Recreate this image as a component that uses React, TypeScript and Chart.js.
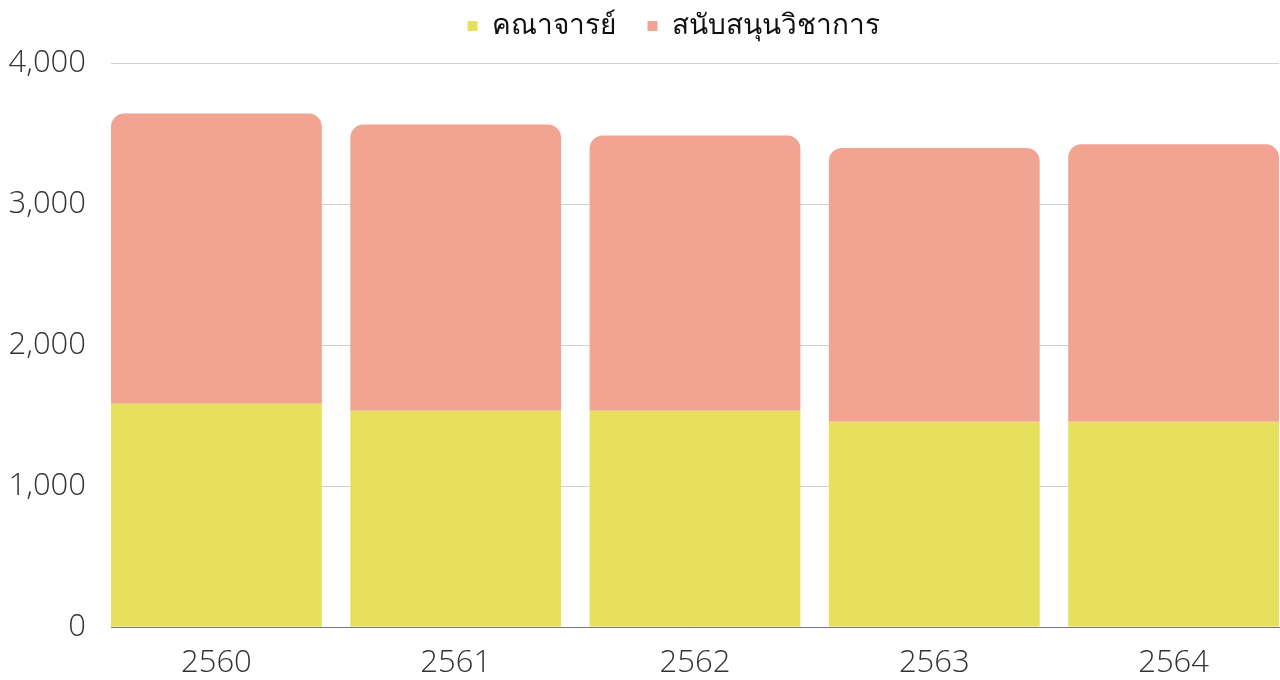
import React, { useEffect, useRef } from "react";
import { Chart, registerables } from "chart.js";

Chart.register(...registerables);

const years = ["2560", "2561", "2562", "2563", "2564"];
const faculty = [1583, 1533, 1533, 1455, 1455];
const support = [2058, 2030, 1952, 1942, 1968];
const seriesNames = ["คณาจารย์", "สนับสนุนวิชาการ"];
const yTicks = [0, 1000, 2000, 3000, 4000];

const FONT = "'Open Sans', 'Noto Sans', 'DejaVu Sans', sans-serif";

const legendSpacer = {
  id: "legendSpacer",
  beforeInit(chart: any) {
    const orig = chart.legend.fit;
    chart.legend.fit = function () {
      orig.call(this);
      this.height += 13;
    };
  },
  afterLayout(chart: any) {
    chart.legend.left += 34;
    chart.legend.right += 34;
  },
};

export default function App() {
  const ref = useRef<HTMLCanvasElement | null>(null);
  useEffect(() => {
    if (!ref.current) return;
    const half = 0.4405;
    const chart = new Chart(ref.current, {
      type: "bar",
      data: {
        datasets: [
          {
            label: seriesNames[0],
            data: years.map((_, i) => ({ x: i, y: faculty[i] })),
            backgroundColor: "#E6E05E",
            borderWidth: 0,
            barPercentage: 0.881,
            categoryPercentage: 1,
          },
          {
            label: seriesNames[1],
            data: years.map((_, i) => ({ x: i, y: support[i] })),
            backgroundColor: "#F2A493",
            borderWidth: 0,
            borderRadius: 13,
            borderSkipped: "start",
            barPercentage: 0.881,
            categoryPercentage: 1,
          },
        ],
      },
      plugins: [legendSpacer],
      options: {
        animation: false,
        responsive: true,
        maintainAspectRatio: false,
        layout: { padding: { left: 0, right: 1, top: -20, bottom: 0 } },
        plugins: {
          legend: {
            position: "top",
            labels: {
              usePointStyle: true,
              pointStyle: "rect",
              boxWidth: 10,
              boxHeight: 10,
              padding: 32,
              color: "#111",
              font: { family: FONT, size: 28 },
            },
          },
          tooltip: { enabled: false },
        },
        scales: {
          x: {
            type: "linear",
            stacked: true,
            offset: false,
            min: -half,
            max: years.length - 1 + half,
            grid: { display: false, drawTicks: false },
            border: { display: true, color: "#777", width: 1 },
            afterFit: (axis: any) => {
              axis.height = 53;
            },
            ticks: {
              stepSize: 1,
              includeBounds: false,
              autoSkip: false,
              maxRotation: 0,
              padding: 18,
              color: "#333",
              font: { family: FONT, size: 31, weight: 300 },
              callback: (v: any) => {
                const n = Number(v);
                return Number.isInteger(n) && years[n] !== undefined ? years[n] : "";
              },
            },
          },
          y: {
            stacked: true,
            min: yTicks[0],
            max: yTicks[yTicks.length - 1],
            grid: { color: "#CFCFCF", drawTicks: false },
            border: { display: false },
            afterFit: (axis: any) => {
              axis.width = 111;
            },
            afterBuildTicks: (axis: any) => {
              axis.ticks = yTicks.map((v) => ({ value: v }));
            },
            ticks: {
              padding: 25,
              color: "#333",
              font: { family: FONT, size: 31, weight: 300 },
              callback: (v: any) => Number(v).toLocaleString("en-US"),
            },
          },
        },
      },
    });
    return () => chart.destroy();
  }, []);
  return (
    <div style={{ position: "fixed", left: 0, top: 0, width: 1280, height: 680, background: "#fff" }}>
      <canvas ref={ref} />
    </div>
  );
}
